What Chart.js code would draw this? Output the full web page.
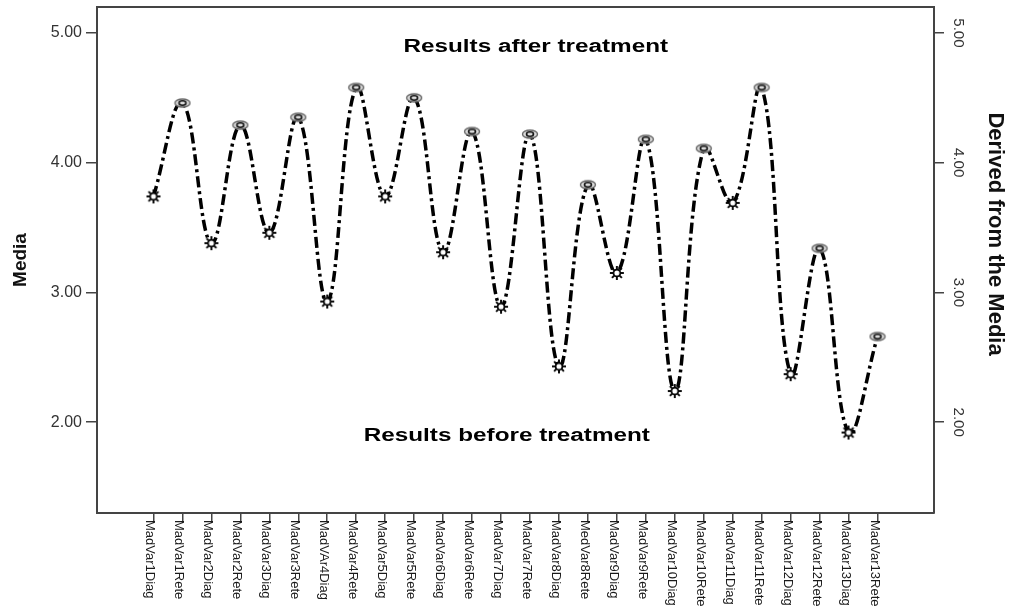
<!DOCTYPE html>
<html>
<head>
<meta charset="utf-8">
<script src="https://cdn.jsdelivr.net/npm/chart.js@4.4.0/dist/chart.umd.min.js"></script>
<style>
  html, body { margin: 0; padding: 0; background: #fff; }
  #wrap { width: 1009px; height: 610px; }
</style>
</head>
<body>
<div id="wrap"><canvas id="mediaChart" width="1009" height="610"></canvas></div>
<script>
// categories (Diag = before treatment, Rete = after treatment)
const labels = ['MadVar1Diag', 'MadVar1Rete', 'MadVar2Diag', 'MadVar2Rete', 'MadVar3Diag', 'MadVar3Rete',
  'MadVAr4Diag', 'MadVar4Rete', 'MadVar5Diag', 'MadVar5Rete', 'MadVar6Diag', 'MadVar6Rete',
  'MadVar7Diag', 'MadVar7Rete', 'MadVar8Diag', 'MedVar8Rete', 'MadVar9Diag', 'MadVar9Rete',
  'MadVar10Diag', 'MadVar10Rete', 'MadVar11Diag', 'MadVar11Rete', 'MadVar12Diag', 'MadVar12Rete',
  'MadVar13Diag', 'MadVar13Rete'];
const means = [3.74, 4.46, 3.38, 4.29, 3.46, 4.35, 2.93, 4.58, 3.74, 4.50, 3.31, 4.24, 2.89, 4.22,
  2.43, 3.83, 3.15, 4.18, 2.24, 4.11, 3.69, 4.58, 2.37, 3.34, 1.92, 2.66];
const yTicks = [2, 3, 4, 5];
const yMin = 1.3, yMax = 5.2;

const axisColor = '#444';
const textColor = '#1a1a1a';

// marker for the "Diag" points: a little sun
function makeSun() {
  const c = document.createElement('canvas');
  c.width = 16; c.height = 16;
  const g = c.getContext('2d');
  g.translate(8, 8);
  g.strokeStyle = '#000';
  g.lineWidth = 1.9;
  for (let k = 0; k < 8; k++) {
    const a = k * Math.PI / 4;
    g.beginPath();
    g.moveTo(Math.cos(a) * 3.8, Math.sin(a) * 3.8);
    g.lineTo(Math.cos(a) * 7, Math.sin(a) * 7);
    g.stroke();
  }
  g.beginPath();
  g.arc(0, 0, 3.4, 0, Math.PI * 2);
  g.fillStyle = '#fff';
  g.fill();
  g.lineWidth = 1.7;
  g.stroke();
  return c;
}

// marker for the "Rete" points: a grey blurred oval
function makeOval() {
  const c = document.createElement('canvas');
  c.width = 18; c.height = 12;
  const g = c.getContext('2d');
  g.translate(9, 6);
  g.beginPath();
  g.ellipse(0, 0, 7.5, 4, 0, 0, Math.PI * 2);
  g.fillStyle = '#ddd';
  g.fill();
  g.strokeStyle = '#666';
  g.lineWidth = 1.4;
  g.stroke();
  g.beginPath();
  g.ellipse(0, 0, 3.5, 2.2, 0, 0, Math.PI * 2);
  g.strokeStyle = '#111';
  g.lineWidth = 1.6;
  g.stroke();
  return c;
}

const sunImg = makeSun();
const ovalImg = makeOval();

function noPad(s) {
  s.paddingTop = 0;
  s.paddingBottom = 0;
}

const extras = {
  id: 'extras',
  afterDraw(chart) {
    const ctx = chart.ctx;
    const area = chart.chartArea;
    const xs = chart.scales.x;
    const ys = chart.scales.y;

    // top frame line
    ctx.save();
    ctx.strokeStyle = axisColor;
    ctx.lineWidth = 2;
    ctx.beginPath();
    ctx.moveTo(area.left, area.top);
    ctx.lineTo(area.right, area.top);
    ctx.stroke();
    ctx.restore();

    // category labels, written top to bottom
    ctx.save();
    ctx.font = '13px "Liberation Sans", Arial, sans-serif';
    ctx.fillStyle = textColor;
    ctx.textAlign = 'left';
    ctx.textBaseline = 'alphabetic';
    labels.forEach((lab, i) => {
      const px = xs.getPixelForValue(i);
      ctx.save();
      ctx.translate(px - 7, area.bottom + 7);
      ctx.rotate(Math.PI / 2);
      ctx.fillText(lab, 0, 0);
      ctx.restore();
    });
    ctx.restore();

    // right axis title, a bit above the middle like the original
    ctx.save();
    ctx.font = 'bold 22px "Liberation Sans", Arial, sans-serif';
    ctx.fillStyle = '#111';
    ctx.textAlign = 'center';
    ctx.textBaseline = 'middle';
    ctx.translate(chart.width - 14, ys.getPixelForValue(3.45));
    ctx.rotate(Math.PI / 2);
    ctx.fillText('Derived from the Media', 0, 0);
    ctx.restore();

    // the two notes inside the plot
    const notes = [
      { text: 'Results after treatment', x: 13.2, y: 4.89 },
      { text: 'Results before treatment', x: 12.2, y: 1.89 }
    ];
    ctx.save();
    ctx.font = 'bold 18px "Liberation Sans", Arial, sans-serif';
    ctx.fillStyle = '#000';
    ctx.textAlign = 'center';
    ctx.textBaseline = 'middle';
    notes.forEach(n => {
      ctx.save();
      ctx.translate(xs.getPixelForValue(n.x), ys.getPixelForValue(n.y));
      ctx.scale(1.35, 1);
      ctx.fillText(n.text, 0, 0);
      ctx.restore();
    });
    ctx.restore();
  }
};

new Chart(document.getElementById('mediaChart'), {
  type: 'line',
  data: {
    datasets: [{
      label: 'Media',
      data: means.map((v, i) => ({ x: i, y: v })),
      yAxisID: 'y',
      borderColor: '#000',
      borderWidth: 3.5,
      borderDash: [11, 4, 3, 4],
      borderCapStyle: 'butt',
      tension: 0.4,
      fill: false,
      pointStyle: (c) => (c.dataIndex % 2 === 0 ? sunImg : ovalImg),
      pointRadius: 7
    }]
  },
  options: {
    responsive: false,
    animation: false,
    layout: { autoPadding: false, padding: { top: 7 } },
    plugins: {
      legend: { display: false },
      tooltip: { enabled: false }
    },
    scales: {
      x: {
        type: 'linear',
        min: -1.95,
        max: 26.95,
        afterBuildTicks: (s) => { s.ticks = labels.map((_, i) => ({ value: i })); },
        afterFit: (s) => { s.height = 97; s.paddingLeft = 0; s.paddingRight = 0; },
        ticks: { display: false },
        grid: { drawOnChartArea: false, tickLength: 9, color: axisColor, lineWidth: 1.5 },
        border: { color: axisColor, width: 2 }
      },
      y: {
        position: 'left',
        min: yMin,
        max: yMax,
        afterBuildTicks: (s) => { s.ticks = yTicks.map(v => ({ value: v })); },
        afterFit: (s) => { s.width = 97; noPad(s); },
        ticks: {
          callback: (v) => Number(v).toFixed(2),
          color: '#333',
          padding: 4,
          font: { family: '"Liberation Sans", Arial, sans-serif', size: 16 }
        },
        grid: { drawOnChartArea: false, tickLength: 11, color: axisColor, lineWidth: 1.5 },
        border: { color: axisColor, width: 2 },
        title: {
          display: true,
          text: 'Media',
          color: '#111',
          padding: { top: 9, bottom: 0 },
          font: { family: '"Liberation Sans", Arial, sans-serif', size: 19, weight: 'bold' }
        }
      },
      y2: {
        position: 'right',
        min: yMin,
        max: yMax,
        afterBuildTicks: (s) => { s.ticks = yTicks.map(v => ({ value: v })); },
        afterFit: (s) => { s.width = 75; noPad(s); },
        ticks: {
          callback: (v) => Number(v).toFixed(2),
          color: '#333',
          padding: 0,
          minRotation: -90,
          maxRotation: -90,
          crossAlign: 'center',
          font: { family: '"Liberation Sans", Arial, sans-serif', size: 15 }
        },
        grid: { drawOnChartArea: false, tickLength: 10, color: axisColor, lineWidth: 1.5 },
        border: { color: axisColor, width: 2 }
      }
    }
  },
  plugins: [extras]
});
</script>
</body>
</html>
